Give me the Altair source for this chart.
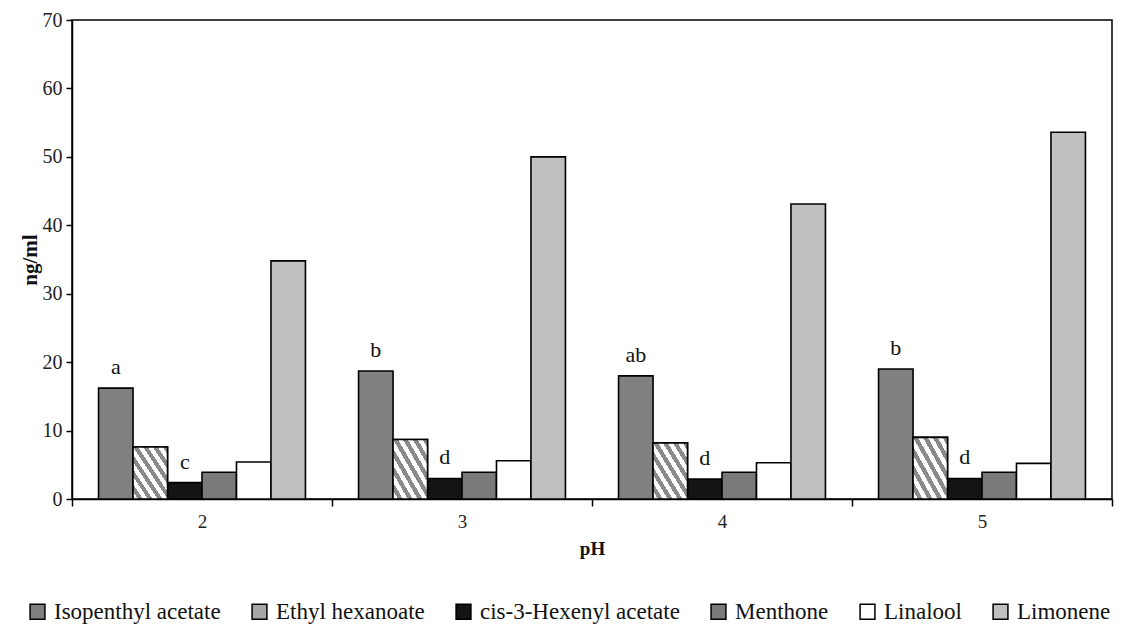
import altair as alt
import pandas as pd

ph_levels = ["2", "3", "4", "5"]
series = ["Isopenthyl acetate", "Ethyl hexanoate", "cis-3-Hexenyl acetate",
          "Menthone", "Linalool", "Limonene"]
fills = ["#808080", "#a6a6a6", "#141414", "#7a7a7a", "#ffffff", "#c0c0c0"]

isopenthyl = [16.2, 18.7, 18.0, 19.0]
ethyl = [7.6, 8.7, 8.2, 9.0]
cis3 = [2.4, 3.0, 2.9, 3.0]
menthone = [3.9, 3.9, 3.9, 3.9]
linalool = [5.4, 5.6, 5.3, 5.2]
limonene = [34.8, 50.0, 43.1, 53.6]

letter_ph = ["2", "2", "3", "3", "4", "4", "5", "5"]
letter_series = ["Isopenthyl acetate", "cis-3-Hexenyl acetate"] * 4
letter_text = ["a", "c", "b", "d", "ab", "d", "b", "d"]

values = [isopenthyl, ethyl, cis3, menthone, linalool, limonene]
rows = []
for s, vals in zip(series, values):
    for p, v in zip(ph_levels, vals):
        rows.append({"pH": p, "series": s, "value": v})
df = pd.DataFrame(rows)

lookup = {(r["pH"], r["series"]): r["value"] for r in rows}
ldf = pd.DataFrame({
    "pH": letter_ph,
    "series": letter_series,
    "letter": letter_text,
    "value": [lookup[(p, s)] for p, s in zip(letter_ph, letter_series)],
})

FONT = "Liberation Serif"

x_enc = alt.X("pH:N", sort=ph_levels, title="pH",
              scale=alt.Scale(paddingInner=0, paddingOuter=0),
              axis=alt.Axis(labelAngle=0, tickBand="extent", tickSize=7,
                            labelFont=FONT, titleFont=FONT,
                            labelFontSize=19, labelPadding=6,
                            titleFontSize=19, titleFontWeight="bold",
                            titlePadding=8, domainColor="black",
                            tickColor="black", labelColor="#222", titleColor="#111",
                            domainWidth=1.5, tickWidth=1.5))
xo_enc = alt.XOffset("series:N", sort=series,
                     scale=alt.Scale(domain=series, paddingOuter=0.77, paddingInner=0))
y_enc = alt.Y("value:Q", title="ng/ml",
              scale=alt.Scale(domain=[0, 70], nice=False),
              axis=alt.Axis(values=list(range(0, 71, 10)), tickSize=6,
                            labelFont=FONT, titleFont=FONT,
                            labelFontSize=20, labelPadding=4, labelColor="#222",
                            titleFontSize=21, titleFontWeight="bold", titleColor="#111",
                            titlePadding=2, grid=False, domainColor="black",
                            tickColor="black", domainWidth=1.5, tickWidth=1.5))

bars = alt.Chart(df).mark_bar(stroke="black", strokeWidth=1.6).encode(
    x=x_enc,
    xOffset=xo_enc,
    y=y_enc,
    color=alt.Color("series:N", sort=series,
                    scale=alt.Scale(domain=series, range=fills),
                    legend=alt.Legend(title=None, orient="none", direction="horizontal",
                                      columns=6, legendX=-46, legendY=580,
                                      symbolType="square", symbolSize=220,
                                      symbolStrokeColor="black", symbolStrokeWidth=1.5,
                                      symbolOpacity=1,
                                      labelFont=FONT, labelFontSize=23,
                                      labelColor="#111", columnPadding=27,
                                      labelOffset=5, labelLimit=400)),
)

# diagonal hatch for Ethyl hexanoate emulated with a hard-stop gradient
stops = []
periods = 7
for i in range(periods):
    a = i / periods
    b = (i + 0.5) / periods
    c = (i + 1) / periods
    stops += [alt.GradientStop(color="#ffffff", offset=a),
              alt.GradientStop(color="#ffffff", offset=b),
              alt.GradientStop(color="#8a8a8a", offset=b),
              alt.GradientStop(color="#8a8a8a", offset=c)]
hatch = alt.Gradient(gradient="linear", stops=stops, x1=0, y1=1, x2=1, y2=0)

ethyl_layer = alt.Chart(df).transform_filter(
    alt.datum.series == "Ethyl hexanoate"
).mark_bar(color=hatch, stroke="black", strokeWidth=1.6).encode(
    x=x_enc, xOffset=xo_enc, y=y_enc,
)

letters = alt.Chart(ldf).mark_text(
    font=FONT, fontSize=22, baseline="bottom", dy=-9, color="#111"
).encode(
    x=x_enc, xOffset=xo_enc, y=y_enc, text="letter:N",
)

chart = alt.layer(bars, ethyl_layer, letters).properties(
    width=1040, height=479,
    background="white",
    autosize=alt.AutoSizeParams(type="none"),
    padding={"left": 72, "top": 20, "right": 11, "bottom": 127},
).configure_view(
    stroke="black", strokeWidth=1.5
).configure_legend(
    labelFont=FONT
).configure_text(
    font=FONT
)

chart.save("out.html", embed_options={"renderer": "svg", "actions": False})
